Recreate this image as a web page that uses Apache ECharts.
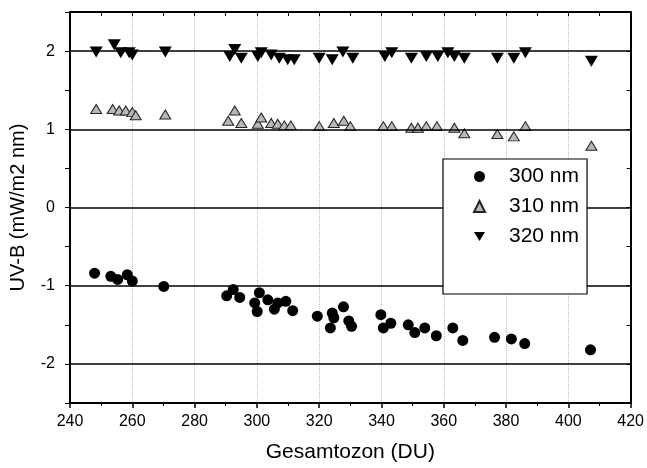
<!DOCTYPE html>
<html>
<head>
<meta charset="utf-8">
<script src="https://cdn.jsdelivr.net/npm/echarts@6/dist/echarts.min.js"></script>
<style>
    html, body {margin: 0; padding: 0; background: #fff;}
    #chart {width: 647px; height: 468px;}
</style>
</head>
<body>
<div id="chart"></div>
<script>
// 300 nm
var data300 = [
    [247.9, -0.84], [253.1, -0.88], [255.3, -0.92], [258.4, -0.86], [260, -0.94],
    [270.1, -1.01], [290.3, -1.13], [292.4, -1.05], [294.5, -1.15], [299.3, -1.22],
    [300.1, -1.33], [300.8, -1.09], [303.5, -1.18], [305.6, -1.30], [306.7, -1.22],
    [309.3, -1.20], [311.5, -1.32], [319.4, -1.39], [323.6, -1.54], [324.2, -1.35],
    [324.7, -1.41], [327.8, -1.27], [329.5, -1.45], [330.4, -1.52], [339.8, -1.37],
    [340.6, -1.54], [343, -1.48], [348.6, -1.50], [350.7, -1.60], [353.9, -1.54],
    [357.6, -1.64], [362.9, -1.54], [366.1, -1.70], [376.3, -1.66], [381.7, -1.68],
    [386, -1.74], [407.1, -1.82]
];
// 310 nm
var data310 = [
    [248.4, 1.26], [253.7, 1.26], [255.8, 1.24], [257.9, 1.24], [260, 1.22],
    [261.1, 1.18], [270.6, 1.19], [290.8, 1.11], [292.9, 1.24], [295, 1.08],
    [300.3, 1.07], [301.4, 1.15], [304.6, 1.08], [306.7, 1.07], [308.8, 1.05],
    [310.9, 1.05], [320, 1.04], [324.7, 1.08], [327.9, 1.11], [330, 1.04],
    [340.6, 1.04], [343.3, 1.04], [349.6, 1.02], [351.7, 1.02], [354.4, 1.04],
    [357.8, 1.04], [363.4, 1.02], [366.6, 0.95], [377.2, 0.94], [382.5, 0.91],
    [386.2, 1.04], [407.4, 0.79]
];
// 320 nm
var data320 = [
    [248.4, 1.99], [254.2, 2.08], [256.3, 1.98], [259, 1.98], [260, 1.95],
    [270.6, 1.99], [291.3, 1.93], [292.9, 2.02], [295, 1.91], [300.3, 1.93],
    [301.4, 1.98], [304.6, 1.95], [307.2, 1.91], [309.9, 1.89], [312, 1.89],
    [320, 1.91], [324.2, 1.89], [327.6, 1.99], [330.8, 1.91], [341.1, 1.93],
    [343.3, 1.98], [349.6, 1.91], [354.4, 1.93], [358.1, 1.93], [361.3, 1.98],
    [363.4, 1.93], [366.6, 1.91], [377.2, 1.91], [382.5, 1.91], [386.2, 1.98],
    [407.4, 1.87]
];
var seriesNames = ["300 nm", "310 nm", "320 nm"];
// horizontal reference lines
var hLines = [-2, -1, 0, 1, 2];

var font = "Liberation Sans";
var downTriangle = "path://M0,0L12,0L6,10Z";
var chart = echarts.init(document.getElementById("chart"));

var option = {
    animation: false,
    backgroundColor: "#fff",
    textStyle: {fontFamily: font, color: "#000"},
    grid: {left: 67, right: 14, top: 12, bottom: 61},
    legend: {
        orient: "vertical",
        left: 443,
        top: 159,
        z: 10,
        data: seriesNames,
        itemWidth: 11,
        itemHeight: 11,
        itemGap: 9,
        padding: [7, 8, 47, 30],
        backgroundColor: "#fff",
        borderColor: "#000",
        borderWidth: 1.2,
        textStyle: {fontFamily: font, fontSize: 21, color: "#000", padding: [0, 0, 0, 19]}
    },
    xAxis: [{
        type: "value",
        min: 240,
        max: 420,
        interval: 20,
        name: "Gesamtozon (DU)",
        nameLocation: "middle",
        nameGap: 39,
        nameTextStyle: {fontFamily: font, fontSize: 21, color: "#000"},
        axisLine: {onZero: false, lineStyle: {color: "#000", width: 2}},
        axisTick: {show: true, inside: false, length: 5, lineStyle: {color: "#000", width: 1.5}},
        minorTick: {show: true, splitNumber: 2, length: 3, lineStyle: {color: "#000", width: 1}},
        axisLabel: {fontFamily: font, fontSize: 16, color: "#000", margin: 11},
        splitLine: {show: true, lineStyle: {color: "#bbb", type: "dotted", width: 1}}
    }, {
        type: "value",
        position: "top",
        min: 240,
        max: 420,
        interval: 10,
        axisLine: {onZero: false, lineStyle: {color: "#000", width: 2}},
        axisTick: {show: true, inside: true, length: 4, lineStyle: {color: "#000"}},
        axisLabel: {show: false},
        splitLine: {show: false}
    }],
    yAxis: [{
        type: "value",
        min: -2.5,
        max: 2.5,
        interval: 0.5,
        name: "UV-B (mW/m2 nm)",
        nameLocation: "middle",
        nameGap: 42,
        nameTextStyle: {fontFamily: font, fontSize: 20, color: "#000"},
        axisLine: {onZero: false, lineStyle: {color: "#000", width: 2}},
        axisTick: {show: true, inside: false, length: 5, lineStyle: {color: "#000"}},
        axisLabel: {
            fontFamily: font, fontSize: 16, color: "#000", margin: 15,
            formatter: function (v) {
                return Math.round(v) === v ? String(v) : "";
            }
        },
        splitLine: {show: false}
    }, {
        type: "value",
        position: "right",
        min: -2.5,
        max: 2.5,
        interval: 0.5,
        axisLine: {onZero: false, lineStyle: {color: "#000", width: 2}},
        axisTick: {show: true, inside: true, length: 4, lineStyle: {color: "#000"}},
        axisLabel: {show: false},
        splitLine: {show: false}
    }],
    series: [{
        name: seriesNames[0],
        type: "scatter",
        symbol: "circle",
        symbolSize: 11,
        itemStyle: {color: "#000", opacity: 1},
        data: data300,
        z: 3,
        markLine: {
            silent: true,
            symbol: "none",
            label: {show: false},
            lineStyle: {color: "#000", type: "solid", width: 1.5},
            data: hLines.map(function (v) {
                return {yAxis: v};
            })
        }
    }, {
        name: seriesNames[1],
        type: "scatter",
        symbol: "triangle",
        symbolSize: [11, 9],
        itemStyle: {color: "#b8b8b8", borderColor: "#222", borderWidth: 1, opacity: 1},
        data: data310,
        z: 3
    }, {
        name: seriesNames[2],
        type: "scatter",
        symbol: downTriangle,
        symbolSize: [13, 11],
        itemStyle: {color: "#000", opacity: 1},
        data: data320,
        z: 3
    }]
};
chart.setOption(option);
</script>
</body>
</html>
